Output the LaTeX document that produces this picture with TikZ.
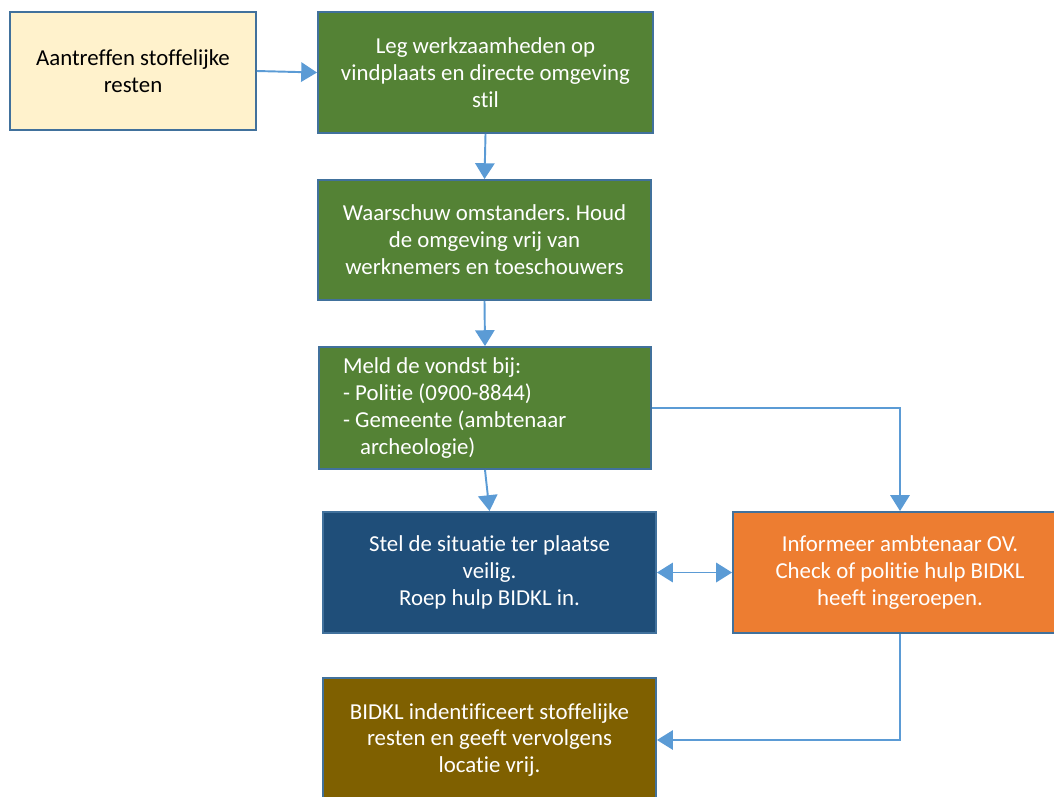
\documentclass[tikz,border=0pt]{standalone}
\usepackage{fontspec}
\setmainfont[Ligatures={NoCommon}]{Carlito}
\usetikzlibrary{arrows.meta}
\definecolor{rand}{HTML}{41719C}
\definecolor{pijl}{HTML}{5B9BD5}
\definecolor{creme}{HTML}{FFF2CC}
\definecolor{groen}{HTML}{548235}
\definecolor{donkerblauw}{HTML}{1F4E79}
\definecolor{oranje}{HTML}{ED7D31}
\definecolor{bruin}{HTML}{7F6000}
\frenchspacing
\tikzset{
  stap/.style={draw=rand,line width=1.1pt,rectangle,align=center,text=white,
    font=\fontsize{13}{15.3}\selectfont,inner sep=0pt},
  punt/.tip={Triangle[width=11pt,length=9pt]},
  pijlen/.style={draw=pijl,line width=1.1pt,-punt},
  dunpijl/.style={pijlen,line width=0.8pt}
}
\begin{document}
\begin{tikzpicture}[x=0.02cm,y=-0.02cm]

    \useasboundingbox (0,0) rectangle (1054,796);
    \clip (0,0) rectangle (1054,796);

    %Stappen
    \node[stap,fill=creme,text=black,minimum width=246*0.02cm,minimum height=118*0.02cm] (vondst) at (133,71)
        {Aantreffen stoffelijke\\resten};
    \node[stap,fill=groen,minimum width=335*0.02cm,minimum height=121*0.02cm] (stil) at (485.5,72.5)
        {Leg werkzaamheden op\\vindplaats en directe omgeving\\stil};
    \node[stap,fill=groen,minimum width=333*0.02cm,minimum height=120*0.02cm] (waarschuw) at (484.5,240)
        {Waarschuw omstanders. Houd\\de omgeving vrij van\\werknemers en toeschouwers};
    \node[stap,fill=groen,minimum width=332*0.02cm,minimum height=122*0.02cm,text width=284*0.02cm,align=flush left] (meld) at (485,408)
        {Meld de vondst bij:\\- Politie (0900-8844)\\- Gemeente (ambtenaar\\\hspace*{0.75em}archeologie)};
    \node[stap,fill=donkerblauw,minimum width=333*0.02cm,minimum height=121*0.02cm] (veilig) at (489.5,572.5)
        {Stel de situatie ter plaatse\\veilig.\\Roep hulp BIDKL in.};
    \node[stap,fill=oranje,minimum width=334*0.02cm,minimum height=121*0.02cm] (informeer) at (900,572.5)
        {Informeer ambtenaar OV.\\Check of politie hulp BIDKL\\heeft ingeroepen.};
    \node[stap,fill=bruin,minimum width=333*0.02cm,minimum height=124*0.02cm] (bidkl) at (489.5,740)
        {BIDKL indentificeert stoffelijke\\resten en geeft vervolgens\\locatie vrij.};

    %Pijlen
    \draw[pijlen] (vondst.east)--(stil.west);
    \draw[pijlen] (stil.south)--(waarschuw.north);
    \draw[pijlen] (waarschuw.south)--(meld.north);
    \draw[pijlen] (meld.south)--(veilig.north);
    \draw[dunpijl] (meld.east)-|(informeer.north);
    \draw[pijlen,punt-punt] (veilig.east)--(informeer.west);
    \draw[dunpijl] (informeer.south)|-(bidkl.east);

\end{tikzpicture}
\end{document}
